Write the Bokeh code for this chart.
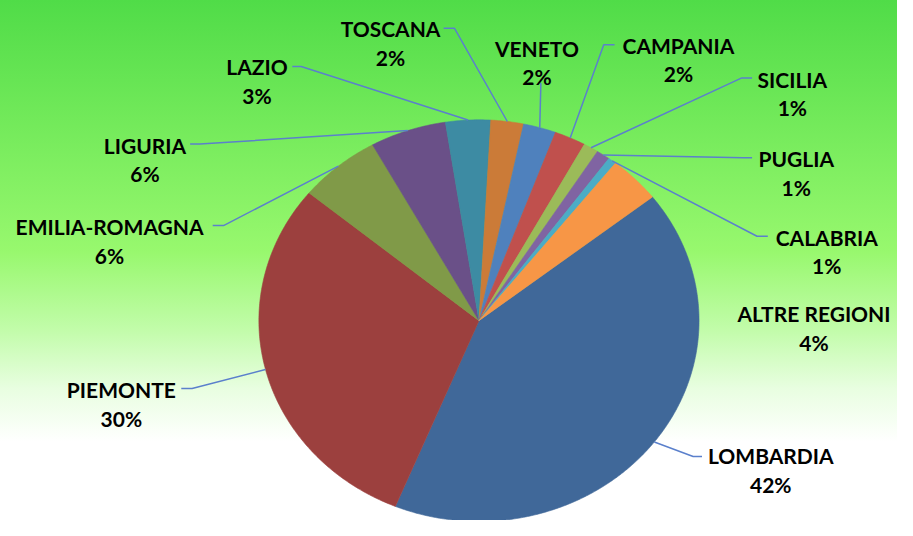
import math
from bokeh.plotting import figure
from bokeh.models import Range1d, ColumnDataSource
from bokeh.core.properties import value
from bokeh.embed import file_html
from bokeh.resources import INLINE

# ---- data ----
regions = ["LOMBARDIA", "PIEMONTE", "EMILIA-ROMAGNA", "LIGURIA", "LAZIO", "TOSCANA",
           "VENETO", "CAMPANIA", "SICILIA", "PUGLIA", "CALABRIA", "ALTRE REGIONI"]
shares = [41.8, 29.8, 6.0, 5.6, 3.3, 2.4, 2.4, 2.3, 1.1, 1.0, 0.6, 3.8]
colors = ["#406899", "#9C403E", "#809A48", "#6A5088", "#3D8BA3", "#CB7B38",
          "#4F81BD", "#C0504D", "#9BBB59", "#8064A2", "#4BACC6", "#F79646"]

# ---- layout (reference 913x536 pixel frame) ----
CX, CY, RX, RY = 487.0, 330.0, 224.0, 207.0
START_DEG = 52.0  # clockwise from 12 o'clock
# label: (center x, first baseline y)
label_pos = {
    "LOMBARDIA": (784, 469), "PIEMONTE": (123, 401), "EMILIA-ROMAGNA": (111, 233),
    "LIGURIA": (147, 149), "LAZIO": (261, 68), "TOSCANA": (397, 29),
    "VENETO": (546, 49), "CAMPANIA": (690, 46), "SICILIA": (806, 81),
    "PUGLIA": (810, 163), "CALABRIA": (841, 244), "ALTRE REGIONI": (828, 323),
}
# leader: (anchor, elbow) near the label; None = no leader
leader_pts = {
    "LOMBARDIA": ((714, 470), (705, 470)), "PIEMONTE": ((184, 400), (195, 400)),
    "EMILIA-ROMAGNA": ((216, 232), (227, 232)), "LIGURIA": ((193, 148), (203, 148)),
    "LAZIO": ((297, 68), (306, 68)), "TOSCANA": ((451, 28.5), (462, 28.5)),
    "VENETO": ((550, 85), (550, 85)), "CAMPANIA": ((625, 45.5), (614, 45.5)),
    "SICILIA": ((765, 80), (754, 80)), "PUGLIA": ((765, 162), (756, 162)),
    "CALABRIA": ((781, 243), (770, 243)), "ALTRE REGIONI": None,
}

W, H = 897, 520
p = figure(width=W, height=H, output_backend="svg", toolbar_location=None,
           x_range=Range1d(0, 913), y_range=Range1d(536, 0),
           x_axis_location=None, y_axis_location=None, min_border=0)
p.grid.visible = False
p.outline_line_color = None
p.background_fill_alpha = 0
p.border_fill_alpha = 0
p.styles = {"background": "linear-gradient(to bottom, #50DC48 0px, #98F86E 252px, "
                          "#C2FCAA 330px, #E8FEE0 388px, #FFFFFF 442px)"}

total = sum(shares)
xs, ys, mids = [], [], []
a0 = START_DEG
for s in shares:
    span = 360.0 * s / total
    n = max(4, int(span * 2))
    px, py = [CX], [CY]
    for k in range(n + 1):
        a = math.radians(a0 + span * k / n)
        px.append(CX + RX * math.sin(a))
        py.append(CY - RY * math.cos(a))
    xs.append(px)
    ys.append(py)
    mids.append(a0 + span / 2)
    a0 += span

p.patches(xs=xs, ys=ys, fill_color=colors, line_color=colors, line_width=0.6)

# leader lines
lx, ly = [], []
for name, m in zip(regions, mids):
    lp = leader_pts[name]
    if lp is None:
        continue
    a = math.radians(m)
    ex, ey = CX + RX * math.sin(a), CY - RY * math.cos(a)
    lx.append([lp[0][0], lp[1][0], ex])
    ly.append([lp[0][1], lp[1][1], ey])
p.multi_line(xs=lx, ys=ly, line_color="#5B80CC", line_width=1.5)

# labels
pct = ["%d%%" % round(100 * s / total) for s in shares]
src = ColumnDataSource(dict(
    x=[label_pos[r][0] for r in regions],
    y1=[label_pos[r][1] for r in regions],
    y2=[label_pos[r][1] + 29.5 for r in regions],
    name=regions, pct=pct))
common = dict(text_font=value("Lato"), text_font_style="bold", text_font_size="21px",
              text_color="#000000", text_align="center", text_baseline="alphabetic")
p.text(x="x", y="y1", text="name", source=src, **common)
p.text(x="x", y="y2", text="pct", source=src, **common)

open("out.html", "w").write(file_html(p, INLINE))
